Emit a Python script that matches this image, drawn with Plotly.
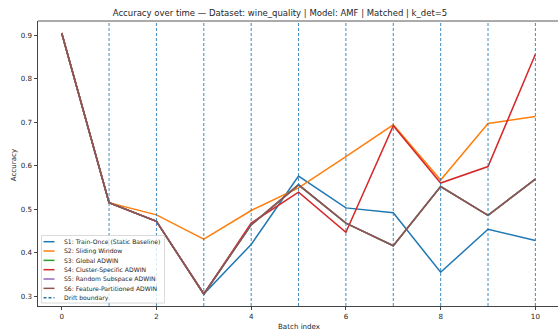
import plotly.graph_objects as go

# Accuracy per batch for each strategy
batches = list(range(11))
s1_train_once = [0.905, 0.515, 0.472, 0.305, 0.419, 0.576, 0.503, 0.492, 0.355, 0.454, 0.428]
s2_sliding = [0.905, 0.515, 0.487, 0.431, 0.497, 0.549, 0.621, 0.694, 0.567, 0.697, 0.713]
s3_global = [0.905, 0.515, 0.472, 0.305, 0.464, 0.556, 0.468, 0.416, 0.552, 0.486, 0.569]
s4_cluster = [0.905, 0.515, 0.472, 0.305, 0.468, 0.539, 0.447, 0.692, 0.560, 0.598, 0.856]
s5_random = [0.905, 0.515, 0.472, 0.305, 0.464, 0.556, 0.468, 0.416, 0.552, 0.486, 0.569]
s6_feature = [0.905, 0.515, 0.472, 0.305, 0.464, 0.556, 0.468, 0.416, 0.552, 0.486, 0.569]
drift_boundaries = [1, 2, 3, 4, 5, 6, 7, 8, 9, 10]

series_names = [
    "S1: Train-Once (Static Baseline)",
    "S2: Sliding Window",
    "S3: Global ADWIN",
    "S4: Cluster-Specific ADWIN",
    "S5: Random Subspace ADWIN",
    "S6: Feature-Partitioned ADWIN",
]
series_values = [s1_train_once, s2_sliding, s3_global, s4_cluster, s5_random, s6_feature]
colors = ["#1f77b4", "#ff7f0e", "#2ca02c", "#d62728", "#9467bd", "#8c564b"]

W, H = 558, 334
ML, MR, MT, MB = 38, 0, 21, 28
PW, PH = W - ML - MR, H - MT - MB
FONT = "DejaVu Sans"
TXT = "#262626"


def px_x(p):
    return (p - ML) / PW


def px_y(p):
    return (H - MB - p) / PH


fig = go.Figure()
for name, vals, col in zip(series_names, series_values, colors):
    fig.add_trace(go.Scatter(x=batches, y=vals, mode="lines", name=name,
                             line=dict(color=col, width=1.5), showlegend=False))

shapes = []
for b in drift_boundaries:
    shapes.append(dict(type="line", xref="x", yref="paper", x0=b, x1=b, y0=0, y1=1,
                       line=dict(color="rgba(31,119,180,0.85)", width=1, dash="3px,2px"),
                       layer="above"))
# top frame line
shapes.append(dict(type="line", xref="paper", yref="paper", x0=0, x1=1, y0=1, y1=1,
                   line=dict(color="#444", width=0.9), layer="above"))

# legend box
lx0, lx1, ly0, ly1 = 41.5, 164.5, 235.5, 303
shapes.append(dict(type="rect", xref="paper", yref="paper",
                   x0=px_x(lx0), x1=px_x(lx1), y0=px_y(ly1), y1=px_y(ly0),
                   fillcolor="rgba(255,255,255,0.8)", line=dict(color="#d0d0d0", width=0.8),
                   layer="above"))

annotations = []
legend_labels = series_names + ["Drift boundary"]
legend_colors = colors + ["#1f77b4"]
row0, step = 241.7, 9.33
for i, (lab, col) in enumerate(zip(legend_labels, legend_colors)):
    cy = row0 + i * step
    dash = "3px,2px" if lab == "Drift boundary" else "solid"
    shapes.append(dict(type="line", xref="paper", yref="paper",
                       x0=px_x(43.5), x1=px_x(54.5), y0=px_y(cy), y1=px_y(cy),
                       line=dict(color=col, width=1.5, dash=dash), layer="above"))
    annotations.append(dict(text=lab, xref="paper", yref="paper", x=px_x(61.5), y=px_y(cy),
                            xanchor="left", yanchor="middle", showarrow=False,
                            font=dict(family=FONT, size=6.1, color=TXT)))

# axis titles
annotations.append(dict(text="Batch index", xref="paper", yref="paper",
                        x=px_x(299), y=px_y(326.5), xanchor="center", yanchor="middle",
                        showarrow=False, font=dict(family=FONT, size=7.1, color=TXT)))
annotations.append(dict(text="Accuracy", xref="paper", yref="paper",
                        x=px_x(13.3), y=px_y(165), xanchor="center", yanchor="middle",
                        textangle=-90, showarrow=False,
                        font=dict(family=FONT, size=7.1, color=TXT)))

fig.update_layout(
    width=W, height=H,
    margin=dict(l=ML, r=MR, t=MT, b=MB, pad=0),
    paper_bgcolor="white", plot_bgcolor="white",
    font=dict(family=FONT, size=7.1, color=TXT),
    title=dict(text="Accuracy over time — Dataset: wine_quality | Model: AMF | Matched | k_det=5",
               x=280 / W, xanchor="center", y=1 - 13.3 / H, yanchor="middle",
               font=dict(family=FONT, size=8.5, color=TXT)),
    xaxis=dict(range=[-0.5, -0.5 + PW / 47.37], tickvals=[0, 2, 4, 6, 8, 10],
               showgrid=False, zeroline=False, showline=True, linecolor="#444", linewidth=0.9,
               ticks="outside", ticklen=3.5, tickwidth=0.8, tickcolor="#444",
               tickfont=dict(family=FONT, size=7.1, color=TXT)),
    yaxis=dict(range=[0.2775, 0.9325], tickvals=[0.3, 0.4, 0.5, 0.6, 0.7, 0.8, 0.9],
               tickformat=".1f",
               showgrid=False, zeroline=False, showline=True, linecolor="#444", linewidth=0.9,
               ticks="outside", ticklen=3.5, tickwidth=0.8, tickcolor="#444",
               tickfont=dict(family=FONT, size=7.1, color=TXT)),
    shapes=shapes,
    annotations=annotations,
    showlegend=False,
)

fig.write_html("out.html")
